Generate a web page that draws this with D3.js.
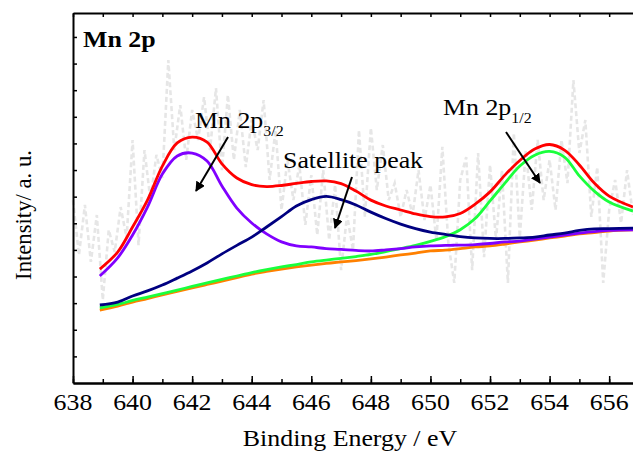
<!DOCTYPE html>
<html>
<head>
<meta charset="utf-8">
<script src="https://cdn.jsdelivr.net/npm/d3@7"></script>
<style>
  body { margin: 0; background: #fff; }
</style>
</head>
<body>
<div id="chart-area"></div>
<script>
// Mn 2p XPS spectrum with peak fitting

// raw spectrum, 638.0 .. 656.8 eV in 0.2 eV steps
var rawStart = 638.0, rawStep = 0.2;
var rawCounts = [
  6.87, 4.81, 6.69, 4.55, 6.31, 3.12, 5.75, 4.92, 6.61, 5.45,
  9.13, 5.18, 8.75, 6.87, 8.57, 7.70, 12.13, 8.75, 10.44, 8.38,
  10.26, 9.13, 10.74, 8.75, 11.08, 8.00, 10.82, 8.38, 10.26, 8.11,
  9.88, 8.75, 10.63, 7.63, 9.50, 6.50, 8.38, 6.87, 8.19, 5.94,
  7.81, 5.56, 8.00, 5.37, 7.44, 4.24, 6.31, 5.00, 9.50, 6.24,
  9.58, 7.25, 8.94, 6.87, 7.51, 6.24, 7.25, 6.31, 8.00, 6.12,
  7.44, 5.37, 8.87, 5.26, 3.76, 7.63, 8.49, 4.24, 8.64, 4.73,
  8.19, 5.37, 8.00, 3.76, 9.39, 5.48, 8.75, 6.50, 9.13, 6.87,
  8.38, 6.50, 9.13, 7.51, 11.38, 8.64, 9.88, 6.24, 8.11, 3.76,
  6.50, 7.63, 6.01, 8.00, 6.31
];

// energies of the fitted curves
var fitEnergy = [
  638.9, 639.5, 640, 640.5, 641, 641.5, 642, 642.5, 643, 643.5,
  644, 644.5, 645, 645.5, 646, 646.5, 647, 647.5, 648, 648.5,
  649, 649.5, 650, 650.5, 651, 651.5, 652, 652.5, 653, 653.5,
  654, 654.5, 655, 655.5, 656, 656.8
];

var background = [
  2.74, 2.89, 3.04, 3.17, 3.31, 3.44, 3.57, 3.70, 3.83, 3.96,
  4.09, 4.19, 4.28, 4.36, 4.43, 4.49, 4.55, 4.60, 4.66, 4.73,
  4.81, 4.88, 4.96, 4.99, 5.05, 5.11, 5.15, 5.22, 5.30, 5.37,
  5.45, 5.52, 5.60, 5.65, 5.71, 5.75
];
var peak12 = [
  2.82, 2.95, 3.10, 3.23, 3.36, 3.49, 3.63, 3.76, 3.89, 4.02,
  4.15, 4.26, 4.36, 4.45, 4.55, 4.62, 4.68, 4.75, 4.83, 4.94,
  5.05, 5.17, 5.32, 5.50, 5.76, 6.18, 6.84, 7.51, 8.15, 8.56,
  8.70, 8.49, 7.78, 7.21, 6.80, 6.46
];
var peak32 = [
  4.02, 4.70, 5.56, 6.61, 7.85, 8.53, 8.64, 8.34, 7.40, 6.57,
  6.01, 5.60, 5.30, 5.15, 5.11, 5.05, 5.02, 4.98, 4.96, 5.00,
  5.05, 5.11, 5.15, 5.17, 5.18, 5.20, 5.24, 5.30, 5.33, 5.41,
  5.48, 5.56, 5.63, 5.69, 5.73, 5.75
];
var satellite = [
  2.93, 3.04, 3.27, 3.46, 3.68, 3.94, 4.21, 4.51, 4.85, 5.17,
  5.48, 5.86, 6.25, 6.65, 6.89, 7.01, 6.89, 6.69, 6.42, 6.18,
  5.97, 5.80, 5.67, 5.58, 5.50, 5.45, 5.43, 5.43, 5.45, 5.48,
  5.56, 5.63, 5.73, 5.79, 5.80, 5.82
];
var envelope = [
  4.28, 4.92, 5.86, 6.87, 8.15, 9.02, 9.24, 9.05, 8.23, 7.70,
  7.45, 7.38, 7.42, 7.50, 7.57, 7.59, 7.49, 7.21, 6.87, 6.65,
  6.50, 6.35, 6.25, 6.24, 6.37, 6.72, 7.18, 7.81, 8.36, 8.79,
  8.96, 8.75, 8.19, 7.51, 7.02, 6.61
];

var xTicks = d3.range(638, 657, 2);

var margin = { top: 13, right: 0, bottom: 69, left: 73 };
var width = 633 - margin.left - margin.right;
var height = 452 - margin.top - margin.bottom;
var stretch = 1.14;   // the original fonts are a bit wider than tall
var font = '"Liberation Serif", "Times New Roman"';

var svg = d3.select('#chart-area')
  .append('svg')
  .attr('width', 633)
  .attr('height', 452);

var graph = svg.append('g')
  .attr('transform', 'translate(' + margin.left + ',' + margin.top + ')');

var x = d3.scaleLinear().domain([638, 656.8]).range([0, width]);
var y = d3.scaleLinear().domain([0, 13.9]).range([height, 0]);

// raw data (grey dashed)
var raw = rawCounts.map(function (v, i) {
  return { e: rawStart + i * rawStep, v: v };
});
graph.append('path')
  .datum(raw)
  .attr('fill', 'none')
  .attr('stroke', '#e6e6e6')
  .attr('stroke-width', 2.6)
  .attr('stroke-dasharray', '5,3')
  .attr('d', d3.line().x(function (d) { return x(d.e); }).y(function (d) { return y(d.v); }));

// fitted curves
var fits = [
  { values: background, color: '#ff8000' },
  { values: peak12, color: '#1aff3c' },
  { values: peak32, color: '#8000ff' },
  { values: satellite, color: '#000080' },
  { values: envelope, color: '#ff0000' }
];
var fitLine = d3.line()
  .x(function (d, i) { return x(fitEnergy[i]); })
  .y(function (d) { return y(d); })
  .curve(d3.curveCatmullRom);

graph.selectAll('.fit')
  .data(fits)
  .enter()
  .append('path')
  .attr('class', 'fit')
  .attr('fill', 'none')
  .attr('stroke', function (d) { return d.color; })
  .attr('stroke-width', 2.8)
  .attr('d', function (d) { return fitLine(d.values); });

// axes, ticks pointing inward
var xAxis = d3.axisBottom(x).tickValues(d3.range(638, 657, 1))
  .tickSize(-4).tickFormat('').tickSizeOuter(0);
graph.append('g').attr('class', 'x-axis')
  .attr('transform', 'translate(0,' + height + ')')
  .call(xAxis);
var xMajor = d3.axisBottom(x).tickValues(xTicks)
  .tickSize(-7).tickFormat('').tickSizeOuter(0);
graph.append('g').attr('class', 'x-axis')
  .attr('transform', 'translate(0,' + height + ')')
  .call(xMajor);
var xTop = d3.axisTop(x).tickValues(d3.range(638, 657, 1))
  .tickSize(-4).tickFormat('').tickSizeOuter(0);
graph.append('g').attr('class', 'x-axis').call(xTop);
var yAxis = d3.axisLeft(y).tickValues(d3.range(1, 14, 1))
  .tickSize(-4).tickFormat('').tickSizeOuter(0);
graph.append('g').attr('class', 'y-axis').call(yAxis);

graph.selectAll('.domain').attr('stroke', '#000').attr('stroke-width', 2);
graph.selectAll('.tick line').attr('stroke', '#000').attr('stroke-width', 1.5);

function addText(px, py, str, size, weight, anchor) {
  var t = svg.append('g')
    .attr('transform', 'translate(' + px + ',' + py + ') scale(' + stretch + ',1)')
    .append('text')
    .style('font-family', font)
    .style('font-size', size + 'px')
    .style('font-weight', weight || 'normal')
    .attr('text-anchor', anchor || 'start')
    .attr('fill', '#000')
    .text(str);
  return t;
}

xTicks.forEach(function (t) {
  addText(margin.left + x(t), 410, t, 22.7, 'normal', 'middle');
});

addText(margin.left + width / 2 - 3, 446, 'Binding Energy / eV', 22.7, 'normal', 'middle');

svg.append('text')
  .attr('transform', 'translate(31,' + (margin.top + 202) + ') rotate(-90)')
  .style('font-family', font)
  .style('font-size', '22.7px')
  .attr('text-anchor', 'middle')
  .text('Intensity/ a. u.');

addText(83, 47, 'Mn 2p', 22.7, 'bold');

function peakLabel(px, py, sub) {
  var t = addText(px, py, 'Mn 2p', 22.7);
  t.append('tspan').style('font-size', '14px').attr('dy', 8).text(sub);
}
peakLabel(195, 128, '3/2');
peakLabel(443, 115, '1/2');
addText(283, 168, 'Satellite peak', 22.7);

// arrows
svg.append('defs').append('marker')
  .attr('id', 'head')
  .attr('viewBox', '0 0 10 10')
  .attr('refX', 9).attr('refY', 5)
  .attr('markerWidth', 5).attr('markerHeight', 5)
  .attr('orient', 'auto')
  .append('path')
  .attr('d', 'M0,0 L10,5 L0,10 z')
  .attr('fill', '#000');

var arrows = [
  [228, 137, 196, 191],
  [352, 177, 335, 228],
  [506, 132, 540, 183]
];
svg.selectAll('.arrow')
  .data(arrows)
  .enter()
  .append('line')
  .attr('class', 'arrow')
  .attr('x1', function (d) { return d[0]; })
  .attr('y1', function (d) { return d[1]; })
  .attr('x2', function (d) { return d[2]; })
  .attr('y2', function (d) { return d[3]; })
  .attr('stroke', '#000')
  .attr('stroke-width', 2)
  .attr('marker-end', 'url(#head)');
</script>
</body>
</html>
